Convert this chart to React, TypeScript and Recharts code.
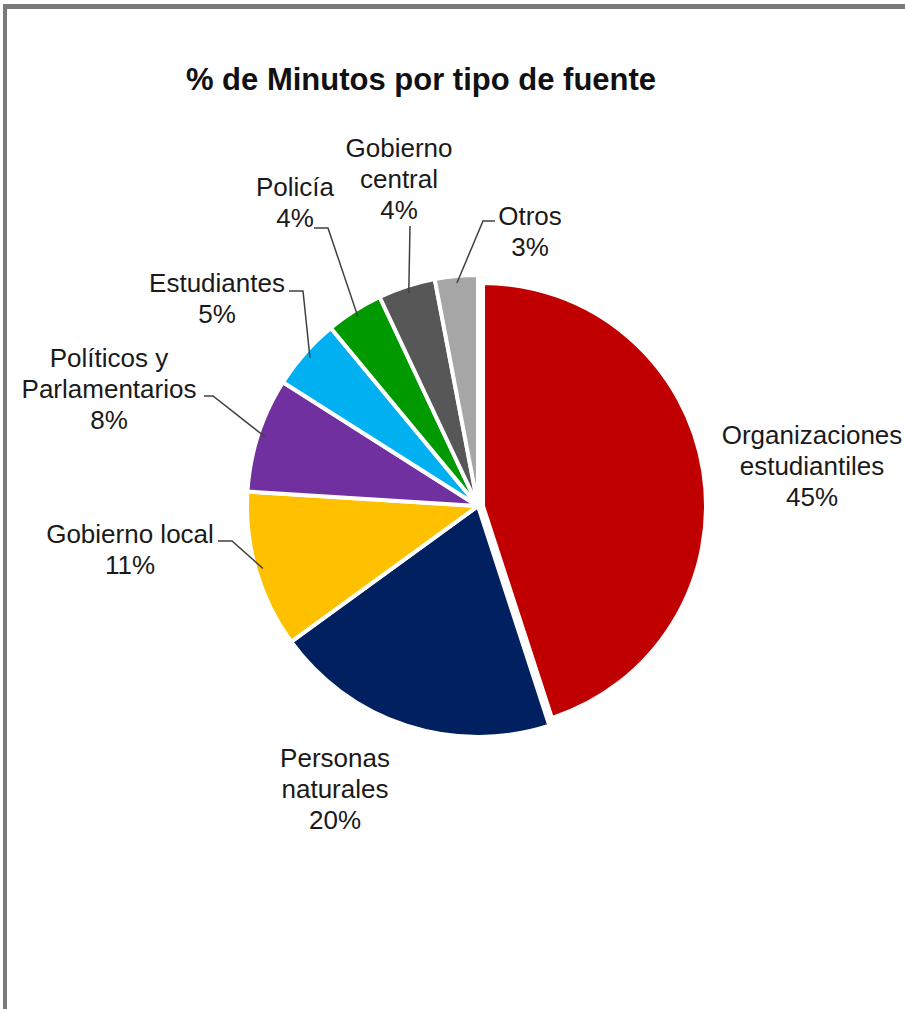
import { Cell, Pie, PieChart } from "recharts";

const CATEGORIES = [
  "Organizaciones estudiantiles",
  "Personas naturales",
  "Gobierno local",
  "Políticos y Parlamentarios",
  "Estudiantes",
  "Policía",
  "Gobierno central",
  "Otros",
];

const SHARES = [45, 20, 11, 8, 5, 4, 4, 3];

const LABEL_LINES = [
  ["Organizaciones", "estudiantiles"],
  ["Personas", "naturales"],
  ["Gobierno local"],
  ["Políticos y", "Parlamentarios"],
  ["Estudiantes"],
  ["Policía"],
  ["Gobierno", "central"],
  ["Otros"],
];

const COLORS = [
  "#C00000",
  "#002060",
  "#FFC000",
  "#7030A0",
  "#00B0F0",
  "#009A00",
  "#575757",
  "#A6A6A6",
];

const data = CATEGORIES.map((name, i) => ({ name, value: SHARES[i] }));

// label placement relative to the pie centre (Excel style callouts)
type LabelLayout = {
  dx: number;
  dy: number;
  elbow?: [number, number];
  end?: [number, number];
};

const LABEL_LAYOUT: LabelLayout[] = [
  { dx: 334, dy: -62 },
  { dx: -143, dy: 261 },
  { dx: -348, dy: 37, elbow: [-246, 35], end: [-260, 35] },
  { dx: -369, dy: -139, elbow: [-265, -110], end: [-274, -110] },
  { dx: -261, dy: -214, elbow: [-175, -215], end: [-189, -215] },
  { dx: -183, dy: -310, elbow: [-150, -278], end: [-164, -278] },
  { dx: -79, dy: -349, elbow: [-68, -280], end: [-68, -280] },
  { dx: 52, dy: -281, elbow: [5, -285], end: [17, -285] },
];

const RADIAN = Math.PI / 180;
const FONT = "'Liberation Sans', Arial, sans-serif";
const CX = 478;
const CY = 506;
const EXPLODE = 5;

function renderLabel(props: any) {
  const { cx, cy, midAngle, outerRadius, index } = props;
  const lay = LABEL_LAYOUT[index];
  const lines = [...LABEL_LINES[index], `${SHARES[index]}%`];
  const x = cx + lay.dx;
  let leader = null;
  if (lay.elbow && lay.end) {
    const sx = cx + (outerRadius - 7) * Math.cos(-midAngle * RADIAN);
    const sy = cy + (outerRadius - 7) * Math.sin(-midAngle * RADIAN);
    leader = (
      <polyline
        points={`${sx},${sy} ${cx + lay.elbow[0]},${cy + lay.elbow[1]} ${cx + lay.end[0]},${cy + lay.end[1]}`}
        fill="none"
        stroke="#404040"
        strokeWidth={1.5}
      />
    );
  }
  return (
    <g key={`lbl-${index}`}>
      {leader}
      <text textAnchor="middle" fontFamily={FONT} fontSize={26} fill="#1a1a1a">
        {lines.map((line, i) => (
          <tspan key={i} x={x} y={cy + lay.dy + i * 31}>
            {line}
          </tspan>
        ))}
      </text>
    </g>
  );
}

export default function App() {
  return (
    <div style={{ position: "absolute", left: 0, top: 0, width: 905, height: 1009, background: "#fff" }}>
      <PieChart width={905} height={1009} margin={{ top: 0, right: 0, bottom: 0, left: 0 }}>
        <Pie
          data={data}
          dataKey="value"
          nameKey="name"
          cx={CX}
          cy={CY}
          outerRadius={231}
          startAngle={90}
          endAngle={-270}
          stroke="#fff"
          strokeWidth={4}
          label={renderLabel}
          labelLine={false}
          isAnimationActive={false}
        >
          {data.map((d, i) => (
            <Cell
              key={d.name}
              fill={i === 0 ? "none" : COLORS[i]}
              stroke={i === 0 ? "none" : "#fff"}
            />
          ))}
        </Pie>
        {/* exploded first slice */}
        <Pie
          data={data}
          dataKey="value"
          nameKey="name"
          cx={CX + EXPLODE}
          cy={CY}
          outerRadius={223}
          startAngle={90}
          endAngle={-270}
          strokeWidth={4}
          label={false}
          labelLine={false}
          isAnimationActive={false}
        >
          {data.map((d, i) => (
            <Cell
              key={d.name}
              fill={i === 0 ? COLORS[0] : "none"}
              stroke={i === 0 ? "#fff" : "none"}
            />
          ))}
        </Pie>
      </PieChart>
      <svg
        width={905}
        height={1009}
        style={{ position: "absolute", left: 0, top: 0, pointerEvents: "none" }}
      >
        <text x={421} y={90} textAnchor="middle" fontFamily={FONT} fontWeight="bold" fontSize={31} fill="#111">
          % de Minutos por tipo de fuente
        </text>
        <line x1={3} y1={6.5} x2={905} y2={6.5} stroke="#7a7a7a" strokeWidth={5} />
        <line x1={5} y1={4} x2={5} y2={1009} stroke="#7a7a7a" strokeWidth={4} />
      </svg>
    </div>
  );
}
